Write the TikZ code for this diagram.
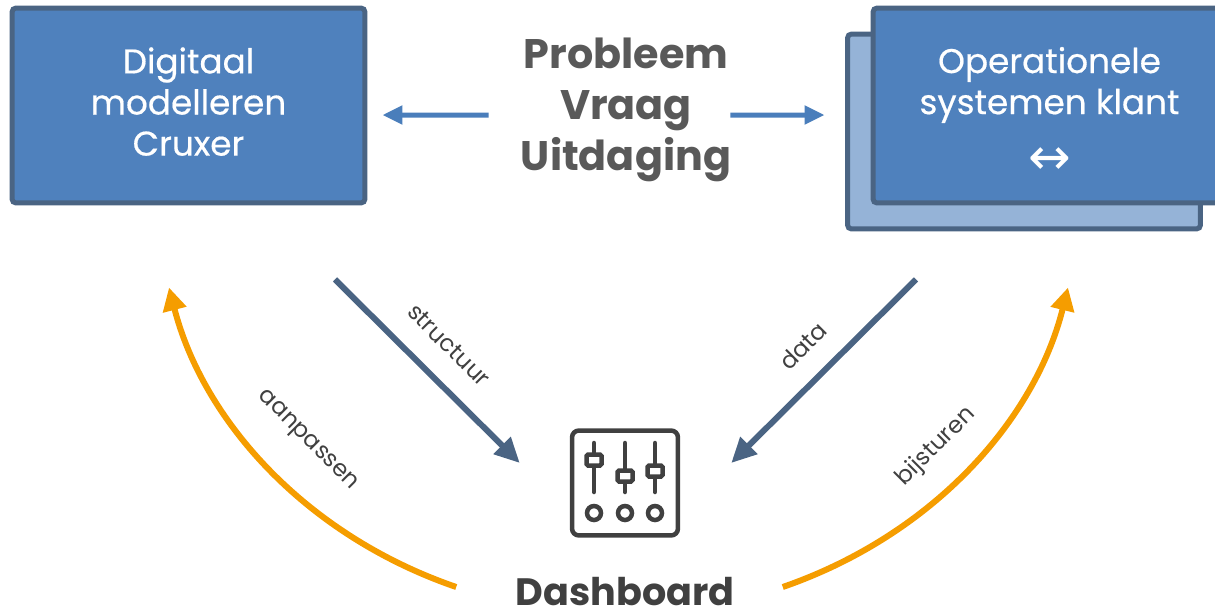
\documentclass[tikz,border=0pt]{standalone}
\usepackage{fontspec}
\usepackage{tikz}
\usetikzlibrary{arrows.meta}
\setmainfont{Poppins}
\newfontfamily\boxfont{Poppins}[FakeBold=0.5]
\newfontfamily\symbolfont{DejaVu Sans}
\definecolor{boxblue}{HTML}{4F81BD}
\definecolor{paleblue}{HTML}{95B3D7}
\definecolor{slateblue}{HTML}{4A6483}
\definecolor{flowblue}{HTML}{4A7EBB}
\definecolor{curveorange}{HTML}{F59D00}
\definecolor{textgrey}{HTML}{595959}
\definecolor{icongrey}{HTML}{404040}

\begin{document}
\begin{tikzpicture}[x=0.02cm, y=-0.02cm,
  systembox/.style ={rectangle, draw=slateblue, line width=0.1cm, fill=boxblue, rounded corners=0.08cm,
    minimum width=7.06cm, minimum height=3.9cm, text=white, align=center, text depth=4.6pt, font=\fontsize{19.5}{23.4}\selectfont\boxfont},
  flowarrow/.style ={draw=flowblue, line width=0.1cm, -{Stealth[length=0.4cm, width=0.36cm, inset=0pt]}},
  darkarrow/.style ={draw=slateblue, line width=0.12cm, -{Stealth[length=0.5cm, width=0.46cm, inset=0pt]}},
  curvearrow/.style ={draw=curveorange, line width=0.12cm, -{Stealth[length=0.46cm, width=0.46cm, inset=0pt]}},
  arrowlabel/.style ={text=icongrey, inner sep=0pt, font=\fontsize{13.3}{15}\selectfont},
  icontrace/.style ={draw=icongrey, line width=0.09cm, line cap=round}]
 \useasboundingbox (0,0) rectangle (1215,613);

 \node[systembox] (modeling) at (188.5,105.5) {Digitaal\\modelleren\\Cruxer};
 \node[systembox, fill=paleblue] (backsystems) at (1024,131.5) {};
 \node[systembox, text depth=0pt] (systems) at (1049.5,105.5) {Operationele\\systemen klant\\[5pt]\raisebox{-5.7pt}[0pt][0pt]{\symbolfont\fontsize{29}{23.4}\selectfont ↔}};

 \node[text=textgrey, align=center, inner sep=0pt, font=\fontsize{23.5}{29}\selectfont\bfseries] (question) at (626,110) {Probleem\\Vraag\\Uitdaging};

 \node[rectangle, icontrace, rounded corners=0.14cm, minimum width=2.12cm, minimum height=2.1cm] (panel) at (625,483) {};
 \node[text=icongrey, inner sep=0pt, font=\fontsize{21.7}{25}\selectfont\bfseries] (dashboard) at (625,592) {Dashboard};

 % sliders in the panel
 \foreach \sx/\sy in {594/460, 625/476, 655/471} {
   \draw[icontrace] (\sx,443) -- (\sx,492);
   \draw[icontrace, fill=white, rounded corners=0.03cm] (\sx-7.5,\sy-5.5) rectangle (\sx+7.5,\sy+5.5);
   \draw[icontrace] (\sx,513) circle (7);
 }

 \draw[flowarrow] ([shift={(-32,5)}]question.west) -- ([shift={(15,9.5)}]modeling.east);
 \draw[flowarrow] ([shift={(-1,5)}]question.east) -- ([shift={(-46,9.5)}]systems.west);
 \draw[darkarrow] ([shift={(146.5,74)}]modeling.south) -- ([shift={(-50,-20)}]panel.west);
 \draw[darkarrow] ([shift={(-133.5,74)}]systems.south) -- ([shift={(51,-20)}]panel.east);
 \draw[curvearrow] ([shift={(-59,-5)}]dashboard.west) .. controls (305,535) and (203,420) .. ([shift={(-19.5,82)}]modeling.south);
 \draw[curvearrow] ([shift={(48,-5)}]dashboard.east) .. controls (933,535) and (1035,420) .. ([shift={(18.5,82)}]systems.south);

 \node[arrowlabel, rotate=-45] (structure) at (449,345) {structuur};
 \node[arrowlabel, rotate=45] (datalabel) at (803,346) {data};
 \node[arrowlabel, rotate=-45] (adjust) at (307,441) {aanpassen};
 \node[arrowlabel, rotate=45] (steer) at (936,447) {bijsturen};
\end{tikzpicture}
\end{document}
